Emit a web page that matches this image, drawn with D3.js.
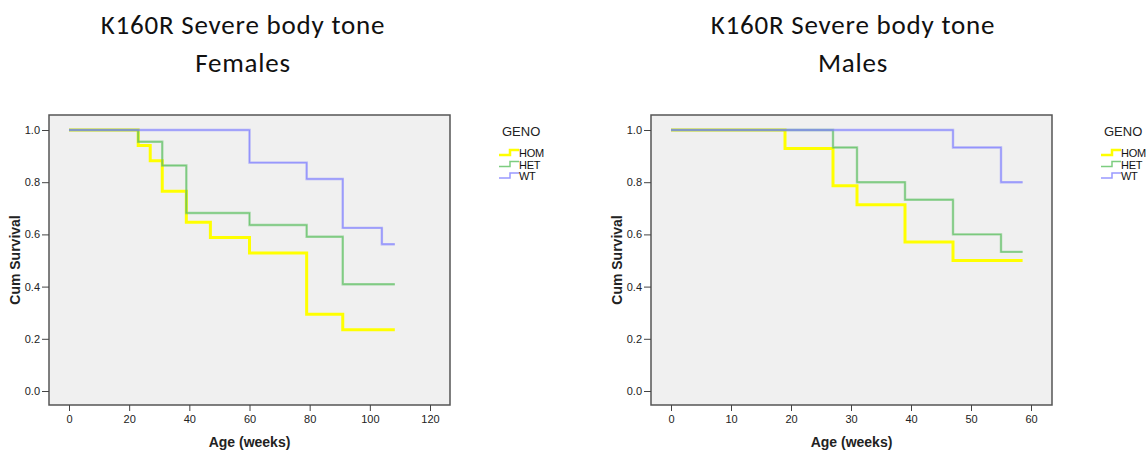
<!DOCTYPE html>
<html>
<head>
<meta charset="utf-8">
<script src="https://cdn.jsdelivr.net/npm/d3@7"></script>
<style>
  body { margin: 0; background: #fff; }
  svg text { font-family: "Liberation Sans", Arial, sans-serif; }
</style>
</head>
<body>
<script>
// group names and colours
const groups = ["HOM", "HET", "WT"];
const colors = {HOM: "#ffff00", HET: "#5cc060", WT: "#7f7fff"};

// Females: step times (weeks) and cumulative survival after each step
const femTimes = {
  HOM: [0, 23, 27, 31, 39, 47, 60, 79, 91, 108.3],
  HET: [0, 23, 31, 39, 60, 79, 91, 108.3],
  WT:  [0, 60, 79, 91, 104, 108.3]
};
const femSurv = {
  HOM: [1, 0.941, 0.882, 0.765, 0.647, 0.588, 0.529, 0.294, 0.235, 0.235],
  HET: [1, 0.955, 0.864, 0.682, 0.636, 0.591, 0.409, 0.409],
  WT:  [1, 0.875, 0.8125, 0.625, 0.5625, 0.5625]
};

// Males
const maleTimes = {
  HOM: [0, 19, 27, 31, 39, 47, 58.6],
  HET: [0, 27, 31, 39, 47, 55, 58.6],
  WT:  [0, 47, 55, 58.6]
};
const maleSurv = {
  HOM: [1, 0.929, 0.786, 0.714, 0.571, 0.5, 0.5],
  HET: [1, 0.933, 0.8, 0.733, 0.6, 0.533, 0.533],
  WT:  [1, 0.933, 0.8, 0.8]
};

const femXTicks = [0, 20, 40, 60, 80, 100, 120];
const maleXTicks = [0, 10, 20, 30, 40, 50, 60];
const yTicks = [0, 0.2, 0.4, 0.6, 0.8, 1.0];

const svg = d3.select("body").append("svg")
    .attr("width", 1146)
    .attr("height", 452);

function panel(opt) {
  const g = svg.append("g");

  var x = d3.scaleLinear().domain(opt.xDomain).range(opt.xRange);
  var y = d3.scaleLinear().domain([0, 1]).range([391, 130]);

  // titles
  g.append("text")
      .attr("x", opt.titleX).attr("y", 34)
      .attr("text-anchor", "middle")
      .style("font-family", "Carlito, Lato, sans-serif")
      .style("font-size", "27px")
      .style("letter-spacing", "0.8px")
      .attr("fill", "#111")
      .text("K160R Severe body tone");
  g.append("text")
      .attr("x", opt.titleX).attr("y", 72)
      .attr("text-anchor", "middle")
      .style("font-family", "Carlito, Lato, sans-serif")
      .style("font-size", "27px")
      .style("letter-spacing", "0.8px")
      .attr("fill", "#111")
      .text(opt.sub);

  // plot background
  g.append("rect")
      .attr("x", opt.box[0]).attr("y", 115)
      .attr("width", opt.box[1] - opt.box[0]).attr("height", 290)
      .attr("fill", "#f0f0f0")
      .attr("stroke", "#555")
      .attr("stroke-width", 1.5);

  // axes
  g.append("g")
      .attr("transform", "translate(0,405)")
      .call(d3.axisBottom(x).tickValues(opt.xTicks).tickSize(6).tickSizeOuter(0).tickPadding(4))
      .call(a => a.select(".domain").remove())
      .call(a => a.selectAll("line").attr("stroke", "#444"))
      .call(a => a.selectAll("text").style("font-size", "11px").attr("fill", "#222"));

  g.append("g")
      .attr("transform", "translate(" + opt.box[0] + ",0)")
      .call(d3.axisLeft(y).tickValues(yTicks).tickFormat(d3.format(".1f")).tickSize(7).tickSizeOuter(0).tickPadding(2))
      .call(a => a.select(".domain").remove())
      .call(a => a.selectAll("line").attr("stroke", "#444"))
      .call(a => a.selectAll("text").style("font-size", "11px").attr("fill", "#222"));

  // axis labels
  g.append("text")
      .attr("x", (opt.box[0] + opt.box[1]) / 2).attr("y", 447)
      .attr("text-anchor", "middle")
      .style("font-size", "14px").style("font-weight", "bold")
      .attr("fill", "#222")
      .text("Age (weeks)");
  g.append("text")
      .attr("transform", "translate(" + opt.yLabelX + ",260) rotate(-90)")
      .attr("text-anchor", "middle")
      .style("font-size", "14px").style("font-weight", "bold")
      .attr("fill", "#222")
      .text("Cum Survival");

  var line = d3.line()
      .x(d => x(d[0]))
      .y(d => y(d[1]))
      .curve(d3.curveStepAfter);

  groups.forEach(function(k) {
    var pts = opt.times[k].map((t, i) => [t, opt.surv[k][i]]);
    var w = k == "HOM" ? 3 : 2.4;
    g.append("path")
        .datum(pts)
        .attr("fill", "none")
        .attr("stroke", colors[k])
        .attr("stroke-opacity", k == "HOM" ? 1 : 0.55)
        .attr("stroke-width", w)
        .attr("d", line);
    if (k != "HOM") {
      g.append("path")
          .datum(pts)
          .attr("fill", "none")
          .attr("stroke", colors[k])
          .attr("stroke-opacity", 0.6)
          .attr("stroke-width", 1)
          .attr("d", line);
    }
  });

  // legend
  var lg = g.append("g").attr("transform", "translate(" + opt.legX + ",0)");
  lg.append("text")
      .attr("x", 3).attr("y", 136)
      .style("font-size", "13px")
      .attr("fill", "#222")
      .text("GENO");
  groups.forEach(function(k, i) {
    var yy = 153 + i * 11.5;
    lg.append("path")
        .attr("d", "M0," + (yy + 2) + "H11V" + (yy - 3) + "H20")
        .attr("fill", "none")
        .attr("stroke", colors[k])
        .attr("stroke-opacity", k == "HOM" ? 1 : 0.8)
        .attr("stroke-width", k == "HOM" ? 2.5 : 1.5);
    lg.append("text")
        .attr("x", 20).attr("y", yy + 4)
        .style("font-size", "11px")
        .style("letter-spacing", "-0.3px")
        .attr("fill", "#111")
        .text(k);
  });
}

panel({
  times: femTimes, surv: femSurv, sub: "Females",
  xDomain: [0, 120], xRange: [69, 430], box: [49, 450], xTicks: femXTicks,
  titleX: 243, yLabelX: 20, legX: 499
});

panel({
  times: maleTimes, surv: maleSurv, sub: "Males",
  xDomain: [0, 60], xRange: [671, 1031], box: [651, 1052], xTicks: maleXTicks,
  titleX: 853, yLabelX: 622, legX: 1101
});
</script>
</body>
</html>
